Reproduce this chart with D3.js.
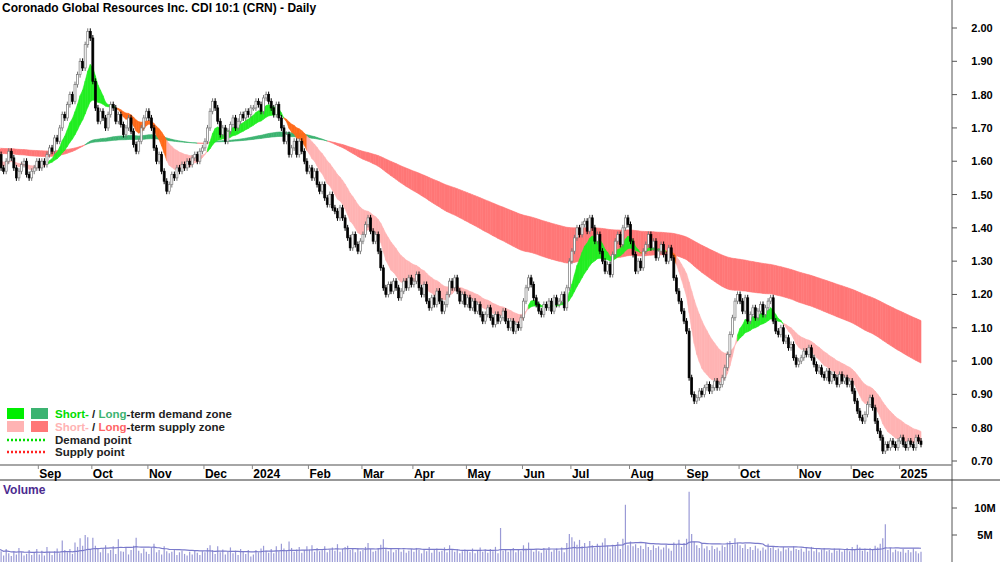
<!DOCTYPE html>
<html><head><meta charset="utf-8">
<script src="https://cdn.jsdelivr.net/npm/d3@7"></script>
<style>body{margin:0;background:#fff}svg{display:block;font-family:Arial,"Liberation Sans",sans-serif}</style>
</head><body><svg id="c" width="1000" height="562"></svg>
<script>
const title = "Coronado Global Resources Inc. CDI 10:1 (CRN) - Daily";
const monthLabels = ["", "Sep","Oct","Nov","Dec","2024","Feb","Mar","Apr","May","Jun","Jul","Aug","Sep","Oct","Nov","Dec","2025"];
const closesByMonth = [
 [1.60,1.62,1.58,1.57,1.60,1.63,1.61,1.58,1.55,1.57,1.59,1.60,1.56,1.55,1.57,1.58,1.60],
 [1.58,1.60,1.59,1.62,1.64,1.63,1.67,1.66,1.70,1.74,1.73,1.77,1.80,1.78,1.83,1.86,1.90,1.88,1.95,1.99,1.97],
 [1.84,1.76,1.72,1.75,1.73,1.70,1.74,1.77,1.76,1.72,1.74,1.71,1.68,1.70,1.73,1.69,1.65,1.63,1.66,1.70,1.73,1.75],
 [1.73,1.70,1.64,1.60,1.62,1.57,1.54,1.51,1.53,1.56,1.55,1.58,1.57,1.59,1.58,1.60,1.59,1.61,1.62,1.60,1.63,1.64],
 [1.66,1.70,1.75,1.78,1.76,1.72,1.68,1.70,1.66,1.69,1.71,1.73,1.70,1.72,1.74,1.73,1.75,1.74,1.76],
 [1.76,1.78,1.77,1.75,1.79,1.80,1.78,1.76,1.74,1.77,1.73,1.70,1.66,1.68,1.62,1.64,1.66,1.62,1.66,1.63,1.60,1.57],
 [1.58,1.55,1.57,1.53,1.51,1.53,1.49,1.47,1.50,1.46,1.45,1.43,1.46,1.43,1.40,1.37,1.34,1.38,1.35,1.33,1.36],
 [1.38,1.41,1.43,1.39,1.36,1.38,1.33,1.28,1.22,1.20,1.23,1.21,1.24,1.22,1.19,1.21,1.24,1.22,1.25,1.23],
 [1.24,1.26,1.22,1.20,1.23,1.18,1.16,1.19,1.17,1.21,1.18,1.15,1.17,1.20,1.24,1.22,1.25,1.21,1.18,1.20,1.17],
 [1.19,1.16,1.18,1.15,1.17,1.14,1.12,1.14,1.16,1.13,1.11,1.14,1.12,1.13,1.15,1.12,1.10,1.12,1.09,1.11,1.10,1.13],
 [1.18,1.22,1.25,1.23,1.19,1.17,1.15,1.14,1.17,1.16,1.18,1.15,1.19,1.17,1.18,1.20,1.16,1.22,1.30],
 [1.33,1.37,1.40,1.38,1.41,1.42,1.39,1.43,1.40,1.36,1.38,1.33,1.30,1.27,1.29,1.26,1.32,1.36,1.38,1.35,1.40,1.43,1.41],
 [1.36,1.32,1.27,1.30,1.28,1.33,1.35,1.38,1.34,1.36,1.31,1.33,1.35,1.32,1.30,1.34,1.31,1.25,1.21,1.18,1.15,1.12],
 [1.09,0.95,0.90,0.88,0.89,0.91,0.90,0.92,0.93,0.91,0.92,0.94,0.92,0.93,0.95,0.98,1.02,1.08,1.13,1.18,1.20],
 [1.18,1.15,1.19,1.12,1.14,1.16,1.13,1.15,1.17,1.14,1.16,1.18,1.19,1.12,1.09,1.08,1.10,1.06,1.07,1.04,1.05,1.01,0.99],
 [1.00,1.01,1.03,1.02,1.04,1.01,0.99,0.97,0.98,0.96,0.95,0.97,0.94,0.96,0.95,0.93,0.96,0.94,0.95,0.93,0.94],
 [0.91,0.88,0.85,0.83,0.82,0.84,0.87,0.89,0.86,0.82,0.79,0.77,0.73,0.75,0.74,0.76,0.75,0.74,0.76],
 [0.77,0.75,0.74,0.76,0.75,0.74,0.77,0.76,0.75]
];
const volumesByMonth = [
 [3.2,1.5,2.0,1.2,2.4,1.6,1.1,2.0,1.4,2.6,1.8,1.2,1.5,2.2,1.3,1.7,2.4],
 [1.4,2.1,1.2,2.8,1.9,1.3,2.0,2.5,1.6,4.0,2.2,1.8,2.4,1.5,3.6,2.8,4.4,3.0,5.0,4.6,2.3],
 [4.5,3.0,2.4,1.8,2.6,3.1,1.6,2.2,2.9,1.5,4.2,2.0,1.9,2.7,1.4,2.2,3.0,4.5,2.1,1.6,2.5,1.9],
 [1.5,2.7,3.4,1.8,2.2,1.4,2.9,2.0,1.6,1.9,2.4,1.3,1.8,2.1,1.5,1.2,1.9,1.4,2.2,1.7,1.3,2.0],
 [1.8,2.6,3.1,2.2,1.5,2.9,1.8,2.3,1.4,2.0,2.7,1.6,2.1,1.3,2.4,1.9,1.5,2.2,1.0],
 [1.4,2.2,1.8,2.5,3.0,2.1,1.7,2.4,1.6,2.9,2.0,3.4,2.5,2.2,3.8,2.6,1.9,2.3,2.8,1.7,2.2,2.9],
 [2.3,3.1,1.9,2.6,2.0,2.4,2.9,1.8,2.2,2.7,2.1,3.3,1.9,2.4,2.8,3.0,2.2,2.5,1.8,2.6,2.0],
 [2.2,2.8,3.5,2.4,1.9,2.1,2.6,3.2,4.2,2.5,2.0,2.4,1.8,2.2,2.6,1.9,2.3,1.7,2.1,2.4],
 [1.9,2.6,2.2,1.6,2.4,2.0,2.8,1.7,2.3,2.5,1.9,2.1,2.7,1.8,3.1,2.2,1.9,2.4,1.6,2.0,2.3],
 [2.1,1.8,2.5,1.6,2.2,2.7,1.9,2.3,1.7,2.4,2.0,2.8,1.6,6.3,2.1,2.4,1.9,2.2,2.6,1.8,2.3,2.0],
 [3.1,2.5,3.6,2.2,1.9,2.4,2.0,1.7,2.6,2.2,2.8,1.9,2.3,2.5,2.1,2.7,1.8,3.5,5.2],
 [4.6,3.8,3.2,4.1,2.9,3.5,2.7,3.9,3.1,2.6,3.4,2.8,3.6,4.4,3.0,2.5,3.2,2.9,3.7,2.4,4.3,10.6,3.1],
 [3.8,2.9,3.3,2.6,3.0,2.4,3.5,2.8,2.2,3.1,2.6,2.9,2.3,2.7,3.2,2.5,2.1,3.6,3.3,4.1,2.8,3.5],
 [4.3,13.0,5.2,3.8,3.1,2.6,3.4,2.5,2.9,2.2,3.0,2.4,2.7,2.1,3.1,2.8,3.6,3.9,3.2,4.4,3.6],
 [3.1,2.6,3.3,2.4,2.8,2.2,3.0,2.5,2.1,2.7,2.3,3.4,2.6,2.9,2.2,2.5,2.0,2.8,2.3,2.6,2.1,2.9,2.4],
 [2.2,2.5,1.9,2.6,2.1,2.8,2.0,2.4,1.8,2.3,2.6,2.0,2.2,1.7,2.5,2.1,2.4,1.9,2.2,2.6,2.0],
 [2.8,2.4,3.2,2.7,2.1,2.5,1.9,2.6,2.3,3.0,2.7,3.4,4.4,7.0,2.2,2.6,1.8,2.3,2.0],
 [1.9,2.4,1.7,2.2,1.8,2.5,2.0,1.6,1.9]
];
const priceTicks = [0.70,0.80,0.90,1.00,1.10,1.20,1.30,1.40,1.50,1.60,1.70,1.80,1.90,2.00];
const volTicks = [5,10];
const volTickLabels = ["5M","10M"];

const closes = closesByMonth.flat();
const volumes = volumesByMonth.flat();
const monthStart = []; { let k=0; closesByMonth.forEach(m=>{monthStart.push(k);k+=m.length;}); }
const N = closes.length;
const svg = d3.select("#c");
const plotR = 952;
const x = d3.scaleLinear().domain([0, N-1]).range([-4, 921]);
const y = d3.scaleLinear().domain([0.70, 2.00]).range([461, 28]);
const yv = d3.scaleLinear().domain([0, 10]).range([562, 508]);

function ema(vals, n, seed){ const a=2/(n+1); let e=seed; return vals.map(v=> (e = e + a*(v-e))); }
const sFast = ema(closes, 9, 1.58), sSlow = ema(closes, 24, 1.60);
const lFast = ema(closes, 120, 1.625), lSlow = ema(closes, 220, 1.64);

const segArea = d3.area().x(d=>x(d.i)).y0(d=>y(d.a)).y1(d=>y(d.b));
const gL = svg.append("g"), gS = svg.append("g");
for (let i=0;i<N-1;i++){
  const up = lFast[i]>=lSlow[i];
  gL.append("path").attr("d", segArea([{i,a:lFast[i],b:lSlow[i]},{i:i+1,a:lFast[i+1],b:lSlow[i+1]}]))
    .attr("fill", up?"#3cb371":"#ff7777").attr("stroke", up?"#3cb371":"#ff7777").attr("stroke-width",0.6);
  const sup = sFast[i]>=sSlow[i];
  const col = sup ? "#22ee22" : (Math.max(sFast[i],sSlow[i]) > lFast[i] ? "#ff6a1a" : "#ffb3b3");
  gS.append("path").attr("d", segArea([{i,a:sFast[i],b:sSlow[i]},{i:i+1,a:sFast[i+1],b:sSlow[i+1]}]))
    .attr("fill", col).attr("stroke", col).attr("stroke-width",0.6);
}

const gC = svg.append("g");
for (let i=0;i<N;i++){
  const o = i? closes[i-1] : closes[0], c = closes[i];
  const up = c>=o, cx = x(i);
  const top = y(Math.max(o,c)), bot = y(Math.min(o,c));
  gC.append("line").attr("x1",cx).attr("x2",cx).attr("y1",top-3).attr("y2",bot+3)
    .attr("stroke", up?"#777":"#000").attr("stroke-width",1);
  gC.append("rect").attr("x",cx-1).attr("width",2).attr("y",top).attr("height",Math.max(1,bot-top))
    .attr("fill", up?"#fff":"#000").attr("stroke", up?"#777":"#000").attr("stroke-width",0.7);
}

svg.append("line").attr("x1",plotR).attr("x2",plotR).attr("y1",0).attr("y2",562).attr("stroke","#555");
priceTicks.forEach(t=>{
  svg.append("line").attr("x1",plotR).attr("x2",plotR+5).attr("y1",y(t)).attr("y2",y(t)).attr("stroke","#555");
  svg.append("text").attr("x",982).attr("y",y(t)+4).attr("text-anchor","middle")
    .attr("font-size",11).attr("font-weight","bold").text(t.toFixed(2));
});
svg.append("line").attr("x1",0).attr("x2",plotR).attr("y1",465).attr("y2",465).attr("stroke","#888").attr("stroke-width",1.5);
svg.append("line").attr("x1",0).attr("x2",1000).attr("y1",480).attr("y2",480).attr("stroke","#333");
monthStart.forEach((s,k)=>{
  if(!monthLabels[k]) return;
  const mx = x(s)-1;
  svg.append("line").attr("x1",mx).attr("x2",mx).attr("y1",465).attr("y2",469).attr("stroke","#888");
  svg.append("text").attr("x",mx+1).attr("y",478).attr("font-size",12).attr("font-weight","bold").text(monthLabels[k]);
});

const gV = svg.append("g");
volumes.forEach((v,i)=>{
  gV.append("line").attr("x1",x(i)).attr("x2",x(i)).attr("y1",yv(0)).attr("y2",yv(v)).attr("stroke","#9a9ad6").attr("stroke-width",1.2);
});
const vma = volumes.map((v,i)=>d3.mean(volumes.slice(Math.max(0,i-29),i+1)));
svg.append("path").attr("d", d3.line().x((d,i)=>x(i)).y(d=>yv(d))(vma)).attr("fill","none").attr("stroke","#7a7acb").attr("stroke-width",1.2);
volTicks.forEach((t,k)=>{
  svg.append("line").attr("x1",plotR).attr("x2",plotR+5).attr("y1",yv(t)).attr("y2",yv(t)).attr("stroke","#555");
  svg.append("text").attr("x",985).attr("y",yv(t)+4).attr("text-anchor","middle").attr("font-size",11).attr("font-weight","bold").text(volTickLabels[k]);
});
svg.append("text").attr("x",3).attr("y",494).attr("font-size",12).attr("font-weight","bold").attr("fill","#4b2b8f").text("Volume");

svg.append("text").attr("x",2).attr("y",12).attr("font-size",12).attr("font-weight","bold").text(title);

const lg = svg.append("g").attr("font-size",11.5).attr("font-weight","bold");
lg.append("rect").attr("x",7).attr("y",408).attr("width",17).attr("height",11).attr("fill","#00ee00");
lg.append("rect").attr("x",31).attr("y",408).attr("width",17).attr("height",11).attr("fill","#3cb371");
lg.append("rect").attr("x",7).attr("y",421).attr("width",17).attr("height",11).attr("fill","#ffb3b3");
lg.append("rect").attr("x",31).attr("y",421).attr("width",17).attr("height",11).attr("fill","#ff7777");
const t1 = lg.append("text").attr("x",55).attr("y",418);
t1.append("tspan").attr("fill","#00dd00").text("Short-");
t1.append("tspan").attr("fill","#222").text(" / ");
t1.append("tspan").attr("fill","#3cb371").text("Long");
t1.append("tspan").attr("fill","#222").text("-term demand zone");
const t2 = lg.append("text").attr("x",55).attr("y",431);
t2.append("tspan").attr("fill","#ffb3b3").text("Short-");
t2.append("tspan").attr("fill","#222").text(" / ");
t2.append("tspan").attr("fill","#ff6666").text("Long");
t2.append("tspan").attr("fill","#222").text("-term supply zone");
lg.append("line").attr("x1",7).attr("x2",47).attr("y1",440).attr("y2",440).attr("stroke","#00dd00").attr("stroke-width",2.5).attr("stroke-dasharray","2,2");
lg.append("line").attr("x1",7).attr("x2",47).attr("y1",452).attr("y2",452).attr("stroke","#ff2222").attr("stroke-width",2.5).attr("stroke-dasharray","2,2");
lg.append("text").attr("x",55).attr("y",444).attr("fill","#222").text("Demand point");
lg.append("text").attr("x",55).attr("y",456).attr("fill","#222").text("Supply point");
</script></body></html>
